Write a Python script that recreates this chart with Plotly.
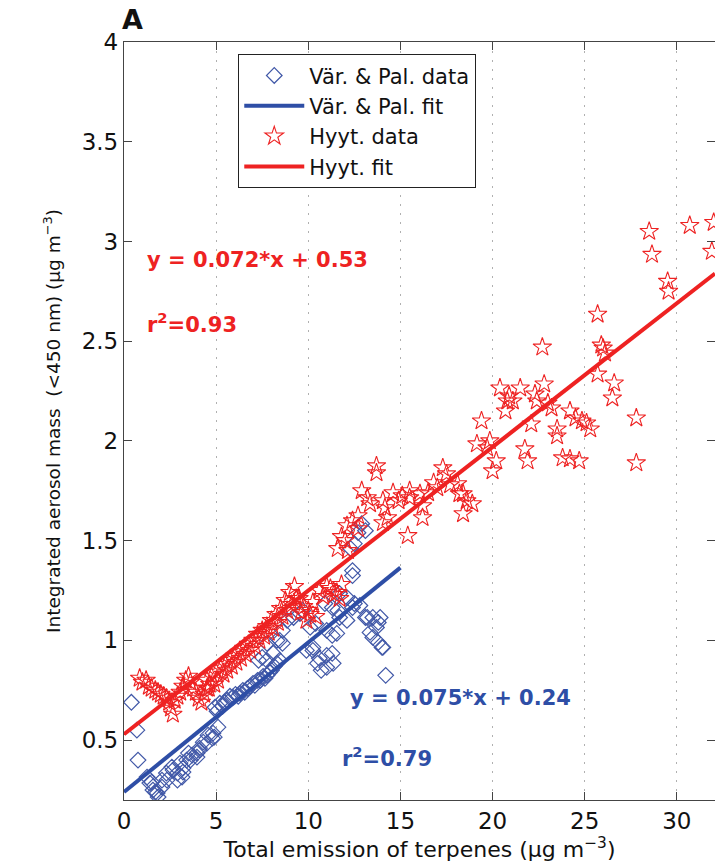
import plotly.graph_objects as go

# Värriö & Pallas observations: terpene emission (x) vs aerosol mass (y)
vp_x = [0.40, 0.70, 0.76, 1.25, 1.40, 1.50, 1.57, 1.70, 1.80, 1.85, 2.06, 2.06, 2.30, 2.33,
        2.60, 2.66, 2.90, 2.90, 3.04, 3.15, 3.20, 3.20, 3.40, 3.50, 3.60, 3.70, 3.96, 3.96,
        4.10, 4.10, 4.30, 4.50, 4.56, 4.80, 4.83, 4.90, 5.10,
        4.94, 5.05, 5.20, 5.35, 5.45, 5.60, 5.75, 5.90, 6.05, 6.20, 6.30, 6.45, 6.55, 6.70,
        6.85, 7.00, 7.10, 7.25, 7.40, 7.55, 7.65, 7.76, 7.90, 8.00, 8.15, 8.30, 8.45,
        7.30, 7.50, 7.75, 7.76, 8.10, 8.30, 8.45, 8.60, 8.60, 8.85, 9.20, 9.55, 9.70,
        9.90, 10.25, 10.25, 10.50, 10.60, 10.70, 11.00, 11.00, 11.30, 11.35, 10.10, 10.40,
        11.00, 11.30, 10.90, 11.30, 11.55, 11.60, 11.70, 11.70, 12.10, 12.10, 12.40, 12.50,
        12.80, 13.10, 13.20, 13.50, 13.70, 13.80, 13.90, 13.35, 13.50, 13.80, 14.00, 14.05,
        14.20, 12.40, 12.40, 12.30, 12.50, 12.70, 12.90, 13.10]
vp_y = [0.69, 0.55, 0.40, 0.315, 0.285, 0.29, 0.25, 0.24, 0.235, 0.215, 0.30, 0.265, 0.335, 0.30,
        0.365, 0.35, 0.335, 0.30, 0.385, 0.315, 0.36, 0.34, 0.40, 0.435, 0.40, 0.425, 0.415, 0.435,
        0.45, 0.46, 0.49, 0.485, 0.525, 0.51, 0.535, 0.515, 0.565,
        0.665, 0.645, 0.685, 0.67, 0.69, 0.70, 0.72, 0.715, 0.73, 0.72, 0.735, 0.75, 0.74, 0.76,
        0.77, 0.785, 0.775, 0.80, 0.80, 0.82, 0.81, 0.825, 0.84, 0.85, 0.87, 0.885, 0.90,
        0.90, 0.915, 0.90, 0.985, 0.935, 1.00, 1.00, 0.985, 1.05, 1.10, 1.115, 1.135, 1.15,
        0.95, 0.95, 0.965, 0.885, 0.91, 0.85, 0.925, 0.865, 0.935, 0.885, 1.065, 1.085,
        1.05, 1.025, 1.185, 1.165, 1.035, 1.15, 1.115, 1.235, 1.215, 1.10, 1.165, 1.185,
        1.175, 1.115, 1.115, 1.115, 1.065, 1.09, 1.115, 1.04, 1.015, 0.99, 0.965, 0.965,
        0.825, 1.35, 1.325, 1.46, 1.485, 1.54, 1.585, 1.55]

# Hyytiälä observations
hy_x = [0.85, 1.00, 1.20, 1.35, 1.50, 1.70, 1.85, 2.00, 2.15, 2.30, 2.45, 2.55, 2.65, 2.75,
        2.90, 3.05, 3.20, 3.35, 3.50, 3.60, 3.75, 3.90, 4.05, 4.20, 4.35, 4.50, 4.65,
        4.50, 4.60, 4.75, 4.90, 5.00, 5.10, 5.25, 5.40, 5.50, 5.60, 5.75, 5.85, 6.00, 6.10,
        6.25, 6.35, 6.50, 6.60, 6.75, 6.85, 7.00, 7.10, 7.25, 7.35, 7.50, 7.60, 7.75, 7.85,
        8.00, 8.10, 8.25, 8.35, 8.50, 8.60, 8.75, 8.85, 9.00, 9.10, 9.25, 9.35,
        9.50, 9.60, 9.75, 9.90, 10.00, 10.10, 10.25, 10.40, 10.60, 10.80, 11.00, 11.20,
        11.40, 11.55, 11.70, 11.80,
        11.60, 11.80, 12.00, 12.15, 12.10, 12.40, 12.70, 12.70, 12.90, 13.20, 13.35, 13.70, 13.70,
        14.05, 14.16, 14.30, 14.05, 14.60, 15.10, 14.90, 15.50, 15.40, 15.50, 16.06, 16.20,
        16.20, 16.80, 17.00, 17.30, 17.50, 18.10, 18.20, 18.40, 18.60, 18.90, 18.40, 16.50, 17.70,
        19.15, 19.70, 19.85, 19.40, 20.00, 20.20, 20.40, 20.70, 20.80, 20.90, 21.10, 21.50,
        21.75, 21.90, 22.10, 22.30, 22.40, 22.70, 22.80, 23.00, 23.20, 23.50, 23.50, 23.80,
        24.20, 24.20, 24.50, 24.70, 24.85, 25.10, 25.30, 25.70, 25.70, 25.90, 26.00, 26.10,
        26.50, 26.60, 27.80, 27.80, 28.50, 28.65, 29.50, 29.55, 30.70, 32.00, 31.90]
hy_y = [0.81, 0.79, 0.80, 0.77, 0.76, 0.75, 0.74, 0.73, 0.72, 0.71, 0.69, 0.66, 0.63, 0.70,
        0.72, 0.74, 0.77, 0.80, 0.82, 0.79, 0.76, 0.74, 0.71, 0.69, 0.73, 0.76, 0.78,
        0.80, 0.76, 0.82, 0.78, 0.84, 0.80, 0.86, 0.83, 0.88, 0.85, 0.90, 0.87, 0.92, 0.89,
        0.94, 0.91, 0.96, 0.93, 0.98, 0.95, 1.00, 0.97, 1.03, 1.00, 1.05, 1.02, 1.07, 1.04,
        1.10, 1.06, 1.13, 1.09, 1.16, 1.12, 1.20, 1.15, 1.24, 1.18, 1.27, 1.21,
        1.21, 1.14, 1.17, 1.10, 1.15, 1.13, 1.19, 1.12, 1.25, 1.22, 1.27, 1.26,
        1.23, 1.24, 1.21, 1.28,
        1.46, 1.52, 1.50, 1.45, 1.575, 1.60, 1.625, 1.56, 1.75, 1.715, 1.685, 1.875, 1.84,
        1.70, 1.665, 1.615, 1.59, 1.74, 1.725, 1.70, 1.715, 1.525, 1.75, 1.735, 1.675,
        1.615, 1.79, 1.765, 1.865, 1.835, 1.785, 1.735, 1.735, 1.70, 1.685, 1.635, 1.74, 1.78,
        1.985, 1.965, 2.00, 2.10, 1.85, 1.90, 2.265, 2.15, 2.20, 2.225, 2.20, 2.265,
        1.96, 1.90, 2.085, 2.235, 2.20, 2.47, 2.285, 2.19, 2.165, 2.06, 2.025, 1.915,
        1.91, 2.15, 2.115, 1.90, 2.10, 2.09, 2.06, 2.635, 2.335, 2.48, 2.465, 2.44,
        2.215, 2.29, 2.115, 1.89, 3.05, 2.935, 2.80, 2.75, 3.08, 3.095, 2.95]

# Linear fits (slope, intercept, r^2) and the x span each fit covers
vp_fit = (0.075, 0.24, 0.79)
hy_fit = (0.072, 0.53, 0.93)
vp_span = [0, 15]
hy_span = [0, 32.07]

x_ticks = [0, 5, 10, 15, 20, 25, 30]
y_ticks = [0.5, 1, 1.5, 2, 2.5, 3, 3.5, 4]

BLUE = "#2e4ea6"
BLUE_M = "#4259a8"
RED = "#ee2222"
FONT = "DejaVu Sans"

fig = go.Figure()

fig.add_trace(go.Scatter(
    x=vp_x, y=vp_y, mode="markers", name="Vär. & Pal. data",
    marker=dict(symbol="diamond-open", size=12, color=BLUE_M, line=dict(width=1.2))))
fig.add_trace(go.Scatter(
    x=vp_span, y=[vp_fit[0] * v + vp_fit[1] for v in vp_span], mode="lines",
    name="Vär. & Pal. fit", line=dict(color=BLUE, width=4)))
fig.add_trace(go.Scatter(
    x=hy_x, y=hy_y, mode="markers", name="Hyyt. data",
    marker=dict(symbol="star-open", size=14, color=RED, line=dict(width=1.1))))
fig.add_trace(go.Scatter(
    x=hy_span, y=[hy_fit[0] * v + hy_fit[1] for v in hy_span], mode="lines",
    name="Hyyt. fit", line=dict(color=RED, width=4)))


def eq(fit):
    return f"y = {fit[0]:g}*x + {fit[1]:g}"


def r2(fit):
    return f"r<sup>2</sup>={fit[2]:g}"


ann_font = dict(family=FONT, size=21, weight="bold")
annotations = [
    dict(x=1.14, y=2.905, text=eq(hy_fit), font=dict(ann_font, color=RED)),
    dict(x=1.14, y=2.59, text=r2(hy_fit), font=dict(ann_font, color=RED)),
    dict(x=12.15, y=0.71, text=eq(vp_fit), font=dict(ann_font, color=BLUE)),
    dict(x=11.7, y=0.415, text=r2(vp_fit), font=dict(ann_font, color=BLUE)),
]
for a in annotations:
    a.update(xref="x", yref="y", xanchor="left", yanchor="middle", showarrow=False)
annotations.append(dict(
    xref="paper", yref="paper", x=-0.006, y=1.03, xanchor="left", yanchor="middle",
    text="A", showarrow=False, font=dict(family=FONT, size=27, weight="bold", color="#111")))

axis_common = dict(
    showline=True, linecolor="#444", linewidth=1.3, mirror="ticks",
    ticks="inside", ticklen=8, tickcolor="#444", tickwidth=1.3,
    zeroline=False, tickfont=dict(family=FONT, size=23, color="#111"),
)

fig.update_layout(
    width=715, height=863,
    margin=dict(l=124, r=0, t=42, b=63),
    paper_bgcolor="white", plot_bgcolor="white",
    showlegend=True,
    legend=dict(
        x=0.193, y=0.984, xanchor="left", yanchor="top",
        bgcolor="white", bordercolor="#222", borderwidth=1.2,
        font=dict(family=FONT, size=21, color="#111"),
        itemwidth=60, tracegroupgap=0,
    ),
    xaxis=dict(
        axis_common, range=[0, 32.07], tickvals=x_ticks,
        showgrid=True, gridcolor="#b0b0b0", griddash="2px,7px", gridwidth=1,
        title=dict(text="Total emission of terpenes (µg m<sup>−3</sup>)",
                   font=dict(family=FONT, size=22, color="#111"), standoff=8),
    ),
    yaxis=dict(
        axis_common, range=[0.2, 4.0], tickvals=y_ticks, showgrid=False,
        title=dict(text="Integrated aerosol mass  (<450 nm) (µg m<sup>−3</sup>)",
                   font=dict(family=FONT, size=18.5, color="#111"), standoff=16),
    ),
    annotations=annotations,
)

fig.write_html("out.html")
